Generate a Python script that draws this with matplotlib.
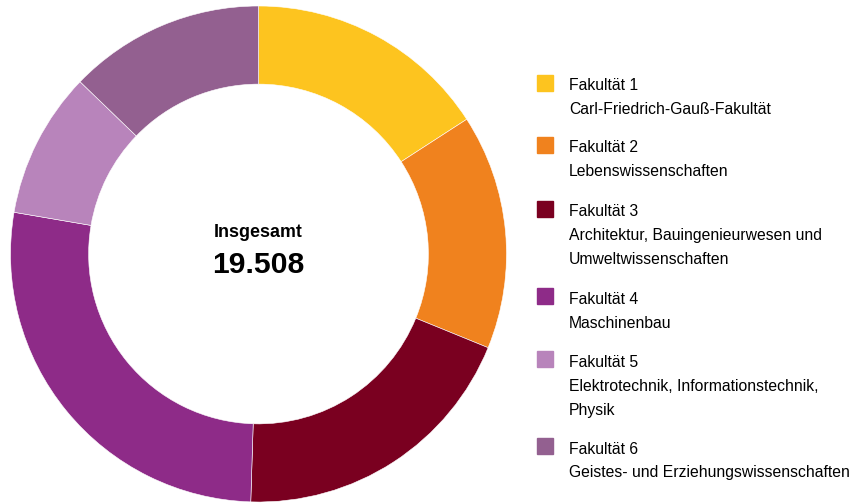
import matplotlib.pyplot as plt
from matplotlib.patches import Rectangle

plt.rcParams['font.family'] = ['Liberation Sans', 'DejaVu Sans']

# Studierende je Fakultaet
fakultaeten = ['Fakultät 1', 'Fakultät 2', 'Fakultät 3', 'Fakultät 4', 'Fakultät 5', 'Fakultät 6']
namen = ['Carl-Friedrich-Gauß-Fakultät',
         'Lebenswissenschaften',
         'Architektur, Bauingenieurwesen und\nUmweltwissenschaften',
         'Maschinenbau',
         'Elektrotechnik, Informationstechnik,\nPhysik',
         'Geistes- und Erziehungswissenschaften']
werte = [3094, 2986, 3771, 5305, 1859, 2493]
farben = ['#FDC41F', '#F0821E', '#7A0020', '#8E2B88', '#B884BB', '#936090']

W, H = 857, 503
fig = plt.figure(figsize=(W / 100, H / 100), dpi=100)

# donut: centre (258.5, 254) px, radius 248 px
cx, cy, r = 258.5, 254, 248
ax = fig.add_axes([(cx - r) / W, (H - cy - r) / H, 2 * r / W, 2 * r / H])
ax.pie(werte, colors=farben, startangle=90, counterclock=False, radius=1,
       wedgeprops=dict(width=0.315, edgecolor='white', linewidth=0.4))
ax.set_xlim(-1, 1)
ax.set_ylim(-1, 1)
ax.set_aspect('equal')
ax.axis('off')

ax.text(0, 0.085, 'Insgesamt', ha='center', va='center', fontsize=12.9, fontweight='bold')
ax.text(0, -0.045, f'{sum(werte):,}'.replace(',', '.'), ha='center', va='center',
        fontsize=21.7, fontweight='bold')

# legend drawn by hand (pixel positions of the header lines)
kopf_y = [86, 148, 211.7, 299, 362.3, 449]
for name, titel, farbe, y in zip(namen, fakultaeten, farben, kopf_y):
    fig.patches.append(Rectangle((537 / W, 1 - (y + 5) / H), 16 / W, 16 / H,
                                 transform=fig.transFigure, color=farbe))
    fig.text(569 / W, 1 - y / H, titel, ha='left', va='center', fontsize=11.3)
    for i, zeile in enumerate(name.split('\n')):
        fig.text(569 / W, 1 - (y + 24 * (i + 1)) / H, zeile, ha='left', va='center', fontsize=11.3)

fig.savefig('out.png', dpi=100, facecolor='white')
